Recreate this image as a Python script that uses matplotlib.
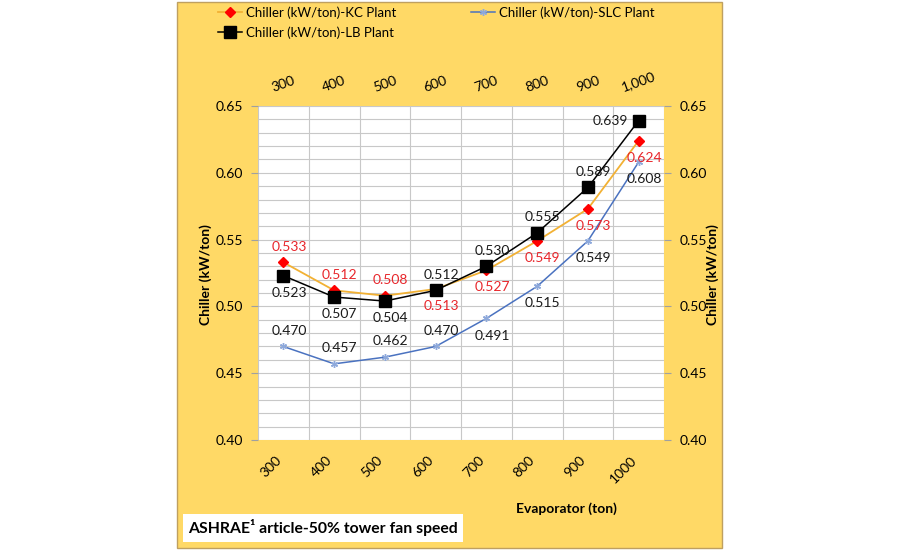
import matplotlib
matplotlib.use("Agg")
import matplotlib.pyplot as plt
from matplotlib.patches import Rectangle
import numpy as np

plt.rcParams['font.family'] = ['Lato', 'DejaVu Sans']

categories = ["300", "400", "500", "600", "700", "800", "900", "1000"]
top_labels = ["300", "400", "500", "600", "700", "800", "900", "1,000"]
kc = [0.533, 0.512, 0.508, 0.513, 0.527, 0.549, 0.573, 0.624]
lb = [0.523, 0.507, 0.504, 0.512, 0.530, 0.555, 0.589, 0.639]
slc = [0.470, 0.457, 0.462, 0.470, 0.491, 0.515, 0.549, 0.608]

# label placement: a = above, b = below, l = left
kc_pos = ['a', 'a', 'a', 'b', 'b', 'b', 'b', 'b']
lb_pos = ['b', 'b', 'b', 'a', 'a', 'a', 'a', 'l']
slc_pos = ['a', 'a', 'a', 'a', 'b', 'b', 'b', 'b']

FS = 9.5

fig = plt.figure(figsize=(9, 5.5), dpi=100)
fig.patch.set_facecolor('white')
panel = Rectangle((177 / 900, 2 / 550), (722 - 177) / 900, 546 / 550,
                  transform=fig.transFigure, facecolor='#FFD966',
                  edgecolor='#BFA060', linewidth=1.0, zorder=-10)
fig.patches.append(panel)

ax = fig.add_axes([258 / 900, 110 / 550, (664 - 258) / 900, (444 - 110) / 550])
ax.set_facecolor('white')
x = np.arange(len(categories))
ax.set_xlim(-0.5, len(categories) - 0.5)
ax.set_ylim(0.40, 0.65)

# grid
for yv in np.arange(0.40, 0.6501, 0.01):
    ax.axhline(yv, color='#C8C8C8', lw=0.8, zorder=1)
for xv in np.arange(-0.5, len(categories), 1.0):
    ax.axvline(xv, color='#C8C8C8', lw=0.8, zorder=1)

for s in ax.spines.values():
    s.set_visible(False)

ax.plot(x, kc, color='#F2B134', lw=1.3, marker='D', markersize=5.5,
        markerfacecolor='#FF0000', markeredgecolor='#FF0000', zorder=3,
        label='Chiller (kW/ton)-KC Plant')
ax.plot(x, lb, color='black', lw=1.1, marker='s', markersize=8,
        markerfacecolor='black', markeredgecolor='black', zorder=4,
        label='Chiller (kW/ton)-LB Plant')
ax.plot(x, slc, color='#4A72C0', lw=1.1, marker=(6, 2, 0), markersize=5,
        markeredgecolor='#8EA9DB', zorder=3, label='Chiller (kW/ton)-SLC Plant')

def label(vals, poss, color):
    for xi, v, p in zip(x, vals, poss):
        if p == 'a':
            off, ha, va = (4, 7), 'center', 'bottom'
        elif p == 'b':
            off, ha, va = (4, -8), 'center', 'top'
        else:
            off, ha, va = (-8, 0), 'right', 'center'
        ax.annotate(f"{v:.3f}", (xi, v), xytext=off, textcoords='offset points',
                    ha=ha, va=va, color=color, fontsize=FS + 0.5, zorder=5)

label(kc, kc_pos, '#E8262B')
label(lb, lb_pos, '#1A1A1A')
label(slc, slc_pos, '#1A1A1A')

yt = [0.40, 0.45, 0.50, 0.55, 0.60, 0.65]
ax.set_yticks(yt)
ax.set_yticklabels([f"{v:.2f}" for v in yt])
ax.tick_params(axis='y', which='both', left=True, right=True, labelleft=True,
               labelright=True, length=5, color='#A0A0A0', labelsize=FS + 0.5, pad=6)
ax.set_xticks(x)
ax.set_xticklabels(categories, rotation=45, ha='right', va='top')
ax.tick_params(axis='x', length=0, labelsize=FS + 0.5, pad=10)

ax2 = ax.twiny()
ax2.set_xlim(ax.get_xlim())
ax2.set_xticks(x)
ax2.set_xticklabels(top_labels, rotation=20, ha='center', va='bottom')
ax2.tick_params(axis='x', length=0, labelsize=FS + 0.5, pad=9)
for s in ax2.spines.values():
    s.set_visible(False)

fig.text(206 / 900, 1 - 275 / 550, 'Chiller (kW/ton)', rotation=90, ha='center',
         va='center', fontsize=FS + 0.5, fontweight='bold')
fig.text(713 / 900, 1 - 275 / 550, 'Chiller (kW/ton)', rotation=90, ha='center',
         va='center', fontsize=FS + 0.5, fontweight='bold')
fig.text(566 / 900, 1 - 509 / 550, 'Evaporator (ton)', ha='center', va='center',
         fontsize=FS + 0.5, fontweight='bold')
fig.text(188 / 900, 1 - 528 / 550, 'ASHRAE¹ article-50% tower fan speed',
         ha='left', va='center', fontsize=11.3, fontweight='bold',
         bbox=dict(boxstyle='square,pad=0.35', facecolor='white', edgecolor='none'))

h, l = ax.get_legend_handles_labels()
leg = fig.legend(h, l, ncol=2, loc='upper left', bbox_to_anchor=(210 / 900, 1.003),
                 frameon=False, fontsize=FS, handlelength=1.8, handletextpad=0.3,
                 columnspacing=5.7, labelspacing=0.55, borderaxespad=0.2)

fig.savefig('out.png', dpi=100, facecolor='white')
